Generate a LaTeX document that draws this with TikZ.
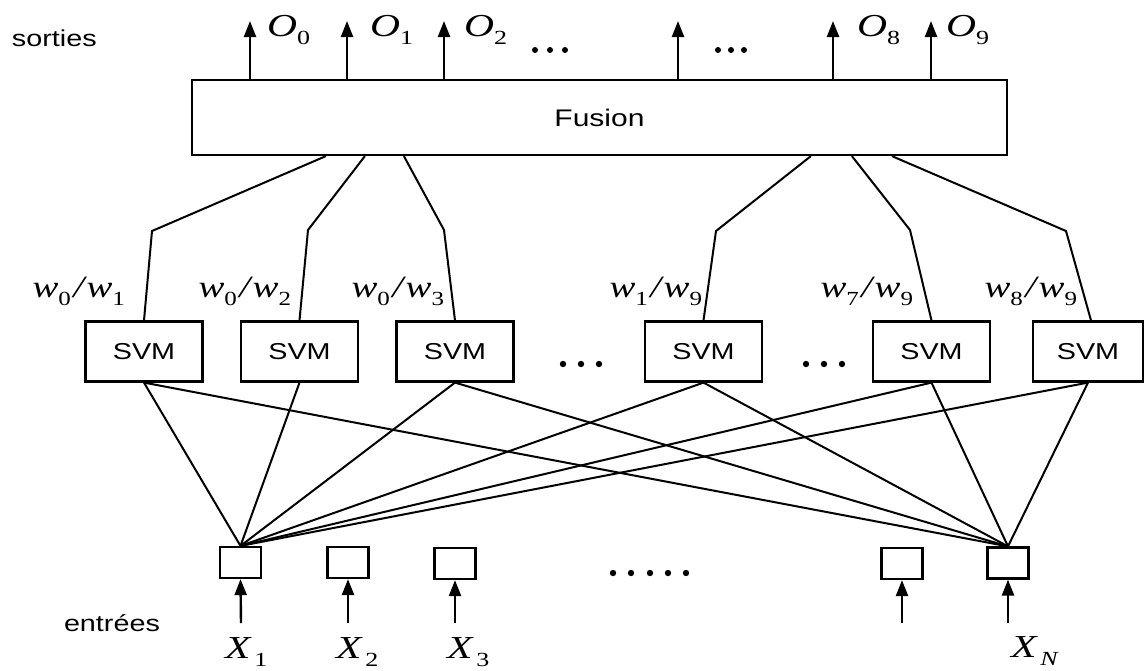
\documentclass[tikz,border=0pt]{standalone}
\usepackage{fontspec}
\setmainfont{Liberation Sans}
\newfontfamily\tms{Liberation Serif}
\usetikzlibrary{arrows.meta}
\newcommand\hs[1]{\scalebox{1.25}[1]{#1}}
\newcommand\sanstxt[1]{\hs{\fontsize{23}{23}\selectfont #1}}
\newcommand\vlab[3]{\scalebox{1.3}[1]{\tms\fontsize{32}{32}\selectfont\itshape #1\kern#3\raisebox{-8pt}{\fontsize{20}{20}\selectfont\upshape #2}}}
\newcommand\wlab[2]{\scalebox{1.25}[1]{\tms\fontsize{31}{31}\selectfont\itshape w\raisebox{-8pt}{\fontsize{20}{20}\selectfont\upshape #1}\kern2pt/\kern2pt w\raisebox{-8pt}{\fontsize{20}{20}\selectfont\upshape #2}}}
\begin{document}
\begin{tikzpicture}[x=1pt,y=-1pt,line width=2pt,
  svmbox/.style={draw,line width=2.2pt,inner sep=0pt,minimum height=60pt,minimum width=117pt},
  inbox/.style={draw,line width=2.2pt,inner sep=0pt,minimum width=41pt,minimum height=31pt},
  arr/.style={-{Triangle[length=16pt,width=12pt]},line width=2.4pt},
  lab/.style={inner sep=0pt},
  wire/.style={line width=2pt},
  dot/.style={fill=black}]
\fill[white] (0,0) rectangle (1144,670);
\useasboundingbox (0,0) rectangle (1144,670);

% Fusion
\node[draw,line width=2.2pt,inner sep=0pt,minimum width=815pt,minimum height=75pt] (fusion) at (599.5,117.5) {\hs{\fontsize{24}{24}\selectfont Fusion}\hspace{14pt}};

% outputs
\foreach \n/\x in {0/250,1/347,2/444,3/678,8/833,9/931}{
  \coordinate (t\n) at (\x,21);
  \draw[arr] (fusion.north -| t\n) -- (t\n);
}
\node[lab,anchor=base west] (o0) at (266,36) {\vlab{O}{0}{0pt}};
\node[lab,anchor=base west] (o1) at (369,36) {\vlab{O}{1}{0pt}};
\node[lab,anchor=base west] (o2) at (463,36) {\vlab{O}{2}{0pt}};
\node[lab,anchor=base west] (o8) at (856,36) {\vlab{O}{8}{0pt}};
\node[lab,anchor=base west] (o9) at (945,36) {\vlab{O}{9}{0pt}};
\foreach \x in {535,550,565}{\fill[dot] (\x,50) circle (3);}
\foreach \x in {718,731,744}{\fill[dot] (\x,50) circle (3);}

\node[lab,anchor=base west] (sorties) at (11,46) {\sanstxt{sorties}};
\node[lab,anchor=base west] (entrees) at (63,631) {\sanstxt{entrées}};

% SVM boxes
\node[svmbox] (s1) at (144,351.5) {\sanstxt{SVM}};
\node[svmbox] (s2) at (299.5,351.5) {\sanstxt{SVM}};
\node[svmbox] (s3) at (455,351.5) {\sanstxt{SVM}};
\node[svmbox] (s4) at (703.5,351.5) {\sanstxt{SVM}};
\node[svmbox] (s5) at (931.5,351.5) {\sanstxt{SVM}};
\node[svmbox,minimum width=110pt] (s6) at (1088,351.5) {\sanstxt{SVM}};
\foreach \x in {563,581,599}{\fill[dot] (\x,364) circle (3.2);}
\foreach \x in {806,824,842}{\fill[dot] (\x,364) circle (3.2);}

% elbows
\coordinate (e1) at (152,231);
\coordinate (e2) at (308,230);
\coordinate (e3) at (444,230);
\coordinate (e4) at (716,231);
\coordinate (e5) at (910,230);
\coordinate (e6) at (1066,231);
\draw[wire] ([xshift=135pt]fusion.south west) -- (e1) -- (s1.north);
\draw[wire] ([xshift=174pt]fusion.south west) -- (e2) -- (s2.north);
\draw[wire] ([xshift=213pt]fusion.south west) -- (e3) -- (s3.north);
\draw[wire] ([xshift=620pt]fusion.south west) -- (e4) -- (s4.north);
\draw[wire] ([xshift=661pt]fusion.south west) -- (e5) -- (s5.north);
\draw[wire] ([xshift=701pt]fusion.south west) -- (e6) -- ([xshift=3pt]s6.north);

% weight labels
\node[lab,anchor=base east] (w1) at (126,297) {\wlab{0}{1}};
\node[lab,anchor=base east] (w2) at (292,297) {\wlab{0}{2}};
\node[lab,anchor=base east] (w3) at (445,297) {\wlab{0}{3}};
\node[lab,anchor=base east] (w4) at (703,297) {\wlab{1}{9}};
\node[lab,anchor=base east] (w5) at (914,297) {\wlab{7}{9}};
\node[lab,anchor=base east] (w6) at (1078,297) {\wlab{8}{9}};

% input boxes
\node[inbox] (i1) at (240.5,562.5) {};
\node[inbox] (i2) at (348,562.5) {};
\node[inbox] (i3) at (455,563.5) {};
\node[inbox] (i4) at (902,563.5) {};
\node[inbox] (i5) at (1008,563) {};
\foreach \x in {613,631,650,668,686}{\fill[dot] (\x,573) circle (3.2);}

% input arrows
\foreach \n/\x in {1/241,2/348,3/455,4/902,5/1008}{
  \coordinate (a\n) at (\x,623);
  \draw[arr] (a\n) -- (i\n.south);
}
\node[lab,anchor=base west] (x1) at (224,658) {\vlab{X}{1}{3pt}};
\node[lab,anchor=base west] (x2) at (335,658) {\vlab{X}{2}{3pt}};
\node[lab,anchor=base west] (x3) at (446,658) {\vlab{X}{3}{3pt}};
\node[lab,anchor=base west] (xn) at (1010,657) {\vlab{X}{\itshape N}{3pt}};

% wiring
\foreach \s in {s1,s2,s3,s4,s5,s6}{\draw[wire] (i1.north) -- (\s.south);}
\foreach \s in {s1,s3,s4,s5,s6}{\draw[wire] (i5.north) -- (\s.south);}
\end{tikzpicture}
\end{document}
